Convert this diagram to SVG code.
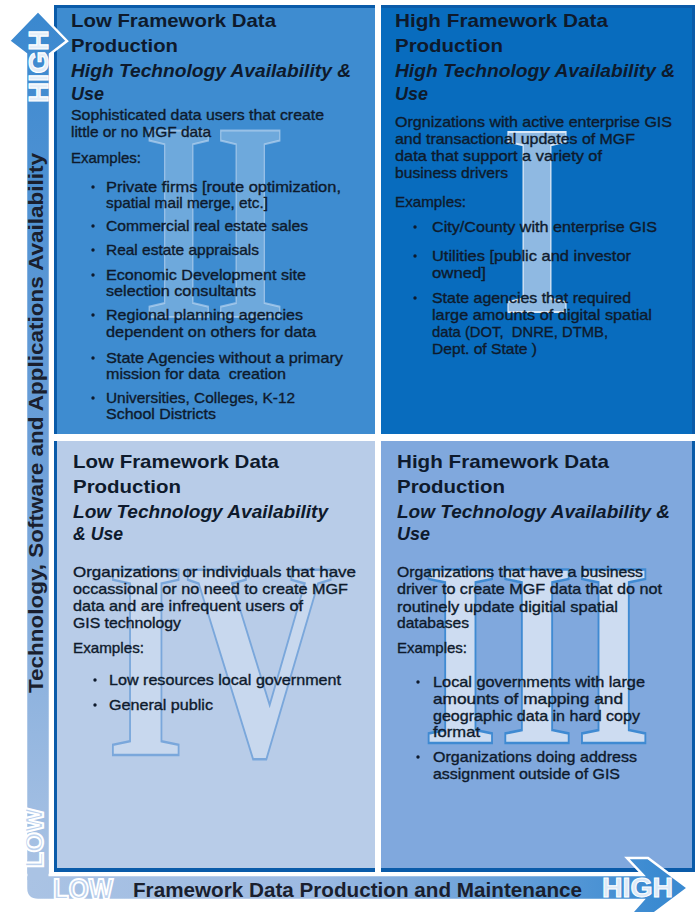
<svg xmlns="http://www.w3.org/2000/svg" width="696" height="912" viewBox="0 0 696 912">
<defs>
<linearGradient id="gv" x1="0" y1="10" x2="0" y2="880" gradientUnits="userSpaceOnUse">
<stop offset="0" stop-color="#3a88cf"/><stop offset="0.5" stop-color="#6c9fd8"/><stop offset="1" stop-color="#aac3e4"/>
</linearGradient>
<linearGradient id="gh" x1="26" y1="0" x2="660" y2="0" gradientUnits="userSpaceOnUse">
<stop offset="0" stop-color="#aac3e4"/><stop offset="0.45" stop-color="#9dbae2"/><stop offset="1" stop-color="#3a8ad1"/>
</linearGradient>
<style>
.h{font-family:"Liberation Sans",Arial,sans-serif;font-weight:bold;font-size:19px;fill:#0e1a2c}
.hi{font-family:"Liberation Sans",Arial,sans-serif;font-weight:bold;font-style:italic;font-size:19px;fill:#0e1a2c}
.b{font-family:"Liberation Sans",Arial,sans-serif;font-size:15px;fill:#0e1a2c;stroke:#0e1a2c;stroke-width:0.35;white-space:pre}
.wm{font-family:"Liberation Serif","Times New Roman",serif;font-weight:bold}
.ax{font-family:"Liberation Sans",Arial,sans-serif;font-weight:bold;font-size:20px;fill:#1a1f2e}
.big{font-family:"Liberation Sans",Arial,sans-serif;font-weight:bold}
</style>
</defs>
<rect width="696" height="912" fill="#ffffff"/>

<g id="frame">
<rect x="54" y="5" width="641" height="867" fill="#0a5ba9"/>
</g>

<g id="q2-top-left">
<rect x="57" y="8" width="318" height="426" fill="#3e8cd0"/>
<text class="wm" x="143" y="317" font-size="285" textLength="143" lengthAdjust="spacingAndGlyphs" fill="#ffffff" fill-opacity="0.25" stroke="#cfe2f6" stroke-opacity="0.55" stroke-width="2">II</text>
<text class="h" x="71" y="27" textLength="205" lengthAdjust="spacingAndGlyphs">Low Framework Data</text>
<text class="h" x="71" y="52" textLength="107" lengthAdjust="spacingAndGlyphs">Production</text>
<text class="hi" x="71" y="77" textLength="280" lengthAdjust="spacingAndGlyphs">High Technology Availability &amp;</text>
<text class="hi" x="71" y="100" textLength="33" lengthAdjust="spacingAndGlyphs">Use</text>
<text class="b" x="71" y="120" textLength="253" lengthAdjust="spacingAndGlyphs">Sophisticated data users that create</text>
<text class="b" x="71" y="137" textLength="140" lengthAdjust="spacingAndGlyphs">little or no MGF data</text>
<text class="b" x="71" y="163" textLength="70" lengthAdjust="spacingAndGlyphs">Examples:</text>
<g fill="#0e1a2c">
<circle cx="93" cy="187" r="1.7"/><circle cx="93" cy="226" r="1.7"/><circle cx="93" cy="250" r="1.7"/><circle cx="93" cy="275" r="1.7"/><circle cx="93" cy="315" r="1.7"/><circle cx="93" cy="358" r="1.7"/><circle cx="93" cy="398" r="1.7"/>
</g>
<text class="b" x="106" y="192" textLength="235" lengthAdjust="spacingAndGlyphs">Private firms [route optimization,</text>
<text class="b" x="106" y="208" textLength="162" lengthAdjust="spacingAndGlyphs">spatial mail merge, etc.]</text>
<text class="b" x="106" y="231" textLength="202" lengthAdjust="spacingAndGlyphs">Commercial real estate sales</text>
<text class="b" x="106" y="255" textLength="153" lengthAdjust="spacingAndGlyphs">Real estate appraisals</text>
<text class="b" x="106" y="280" textLength="200" lengthAdjust="spacingAndGlyphs">Economic Development site</text>
<text class="b" x="106" y="296" textLength="150" lengthAdjust="spacingAndGlyphs">selection consultants</text>
<text class="b" x="106" y="320" textLength="197" lengthAdjust="spacingAndGlyphs">Regional planning agencies</text>
<text class="b" x="106" y="337" textLength="210" lengthAdjust="spacingAndGlyphs">dependent on others for data</text>
<text class="b" x="106" y="363" textLength="237" lengthAdjust="spacingAndGlyphs">State Agencies without a primary</text>
<text class="b" x="106" y="379" textLength="180" lengthAdjust="spacingAndGlyphs" xml:space="preserve">mission for data  creation</text>
<text class="b" x="106" y="403" textLength="189" lengthAdjust="spacingAndGlyphs">Universities, Colleges, K-12</text>
<text class="b" x="106" y="419" textLength="110" lengthAdjust="spacingAndGlyphs">School Districts</text>
</g>

<g id="q1-top-right">
<rect x="381" y="8" width="311" height="426" fill="#086cbe"/>
<text class="wm" x="502" y="312" font-size="275" textLength="70" lengthAdjust="spacingAndGlyphs" fill="#c3d7f0" fill-opacity="0.72" stroke="#dbe8f7" stroke-width="2">I</text>
<text class="h" x="395" y="27" textLength="213" lengthAdjust="spacingAndGlyphs">High Framework Data</text>
<text class="h" x="395" y="52" textLength="108" lengthAdjust="spacingAndGlyphs">Production</text>
<text class="hi" x="395" y="77" textLength="280" lengthAdjust="spacingAndGlyphs">High Technology Availability &amp;</text>
<text class="hi" x="395" y="100" textLength="33" lengthAdjust="spacingAndGlyphs">Use</text>
<text class="b" x="395" y="127" textLength="277" lengthAdjust="spacingAndGlyphs">Orgnizations with active enterprise GIS</text>
<text class="b" x="395" y="144" textLength="240" lengthAdjust="spacingAndGlyphs">and transactional updates of MGF</text>
<text class="b" x="395" y="161" textLength="207" lengthAdjust="spacingAndGlyphs">data that support a variety of</text>
<text class="b" x="395" y="178" textLength="113" lengthAdjust="spacingAndGlyphs">business drivers</text>
<text class="b" x="395" y="207" textLength="71" lengthAdjust="spacingAndGlyphs">Examples:</text>
<g fill="#0e1a2c">
<circle cx="415" cy="227" r="1.7"/><circle cx="415" cy="256" r="1.7"/><circle cx="415" cy="298" r="1.7"/>
</g>
<text class="b" x="432" y="232" textLength="225" lengthAdjust="spacingAndGlyphs">City/County with enterprise GIS</text>
<text class="b" x="432" y="261" textLength="199" lengthAdjust="spacingAndGlyphs">Utilities [public and investor</text>
<text class="b" x="432" y="278" textLength="54" lengthAdjust="spacingAndGlyphs">owned]</text>
<text class="b" x="432" y="303" textLength="199" lengthAdjust="spacingAndGlyphs">State agencies that required</text>
<text class="b" x="432" y="320" textLength="220" lengthAdjust="spacingAndGlyphs">large amounts of digital spatial</text>
<text class="b" x="432" y="337" textLength="176" lengthAdjust="spacingAndGlyphs" xml:space="preserve">data (DOT,  DNRE, DTMB,</text>
<text class="b" x="432" y="354" textLength="105" lengthAdjust="spacingAndGlyphs">Dept. of State )</text>
</g>

<g id="q4-bottom-left">
<rect x="57" y="441" width="318" height="427" fill="#b8cce8"/>
<text class="wm" x="106" y="755" font-size="283" textLength="227" lengthAdjust="spacingAndGlyphs" fill="#c8d8ee" stroke="#7aa7db" stroke-width="2.5">IV</text>
<text class="h" x="73" y="468" textLength="206" lengthAdjust="spacingAndGlyphs">Low Framework Data</text>
<text class="h" x="73" y="493" textLength="108" lengthAdjust="spacingAndGlyphs">Production</text>
<text class="hi" x="73" y="518" textLength="255" lengthAdjust="spacingAndGlyphs">Low Technology Availability</text>
<text class="hi" x="73" y="540" textLength="50" lengthAdjust="spacingAndGlyphs">&amp; Use</text>
<text class="b" x="73" y="577" textLength="283" lengthAdjust="spacingAndGlyphs">Organizations or individuals that have</text>
<text class="b" x="73" y="594" textLength="275" lengthAdjust="spacingAndGlyphs">occassional or no need to create MGF</text>
<text class="b" x="73" y="611" textLength="230" lengthAdjust="spacingAndGlyphs">data and are infrequent users of</text>
<text class="b" x="73" y="628" textLength="108" lengthAdjust="spacingAndGlyphs">GIS technology</text>
<text class="b" x="73" y="653" textLength="71" lengthAdjust="spacingAndGlyphs">Examples:</text>
<g fill="#0e1a2c">
<circle cx="95" cy="680" r="1.7"/><circle cx="95" cy="705" r="1.7"/>
</g>
<text class="b" x="109" y="685" textLength="232" lengthAdjust="spacingAndGlyphs">Low resources local government</text>
<text class="b" x="109" y="710" textLength="104" lengthAdjust="spacingAndGlyphs">General public</text>
</g>

<g id="q3-bottom-right">
<rect x="381" y="441" width="311" height="427" fill="#80a8dd"/>
<text class="wm" x="422" y="743" font-size="265" textLength="230" lengthAdjust="spacingAndGlyphs" fill="#cddcf1" stroke="#3f8ad2" stroke-width="2.5">III</text>
<text class="h" x="397" y="468" textLength="212" lengthAdjust="spacingAndGlyphs">High Framework Data</text>
<text class="h" x="397" y="493" textLength="108" lengthAdjust="spacingAndGlyphs">Production</text>
<text class="hi" x="397" y="518" textLength="273" lengthAdjust="spacingAndGlyphs">Low Technology Availability &amp;</text>
<text class="hi" x="397" y="540" textLength="33" lengthAdjust="spacingAndGlyphs">Use</text>
<text class="b" x="397" y="577" textLength="246" lengthAdjust="spacingAndGlyphs">Organizations that have a business</text>
<text class="b" x="397" y="594" textLength="265" lengthAdjust="spacingAndGlyphs">driver to create MGF data that do not</text>
<text class="b" x="397" y="612" textLength="221" lengthAdjust="spacingAndGlyphs">routinely update digitial spatial</text>
<text class="b" x="397" y="628" textLength="72" lengthAdjust="spacingAndGlyphs">databases</text>
<text class="b" x="397" y="653" textLength="70" lengthAdjust="spacingAndGlyphs">Examples:</text>
<g fill="#0e1a2c">
<circle cx="418" cy="682" r="1.7"/><circle cx="418" cy="757" r="1.7"/>
</g>
<text class="b" x="433" y="687" textLength="212" lengthAdjust="spacingAndGlyphs">Local governments with large</text>
<text class="b" x="433" y="704" textLength="190" lengthAdjust="spacingAndGlyphs">amounts of mapping and</text>
<text class="b" x="433" y="721" textLength="207" lengthAdjust="spacingAndGlyphs">geographic data in hard copy</text>
<text class="b" x="433" y="737" textLength="47" lengthAdjust="spacingAndGlyphs">format</text>
<text class="b" x="433" y="762" textLength="204" lengthAdjust="spacingAndGlyphs">Organizations doing address</text>
<text class="b" x="433" y="779" textLength="187" lengthAdjust="spacingAndGlyphs">assignment outside of GIS</text>
</g>

<g id="dividers" fill="#ffffff">
<rect x="375" y="5" width="6" height="867"/>
<rect x="54" y="434" width="641" height="7"/>
</g>

<g id="axes">
<path d="M26,54 L9,41 L38,11 L67,41 L50,54 L50,876 L26,876 Z" fill="url(#gv)" stroke="#ffffff" stroke-width="2.5" stroke-linejoin="miter"/>
<path d="M26,875 H643 L627,858 H648 L688,888 L648,918 H627 L643,900 H38 Q26,900 26,888 Z" fill="url(#gh)" stroke="#ffffff" stroke-width="2.5"/>
<rect x="27.5" y="860" width="21" height="20" fill="#aac3e4"/>
<text class="ax" transform="translate(43,693) rotate(-90)" textLength="540" lengthAdjust="spacingAndGlyphs">Technology, Software and Applications Availability</text>
<text class="ax" x="133" y="897" textLength="449" lengthAdjust="spacingAndGlyphs">Framework Data Production and Maintenance</text>
<text class="big" transform="translate(48,103) rotate(-90)" font-size="27" textLength="73" lengthAdjust="spacingAndGlyphs" fill="#e4eef9" stroke="#ffffff" stroke-width="1">HIGH</text>
<text class="big" x="602" y="897" font-size="27" textLength="71" lengthAdjust="spacingAndGlyphs" fill="#dce9f7" stroke="#ffffff" stroke-width="1">HIGH</text>
<text class="big" transform="translate(43,868) rotate(-90)" font-size="26" textLength="60" lengthAdjust="spacingAndGlyphs" fill="#bcd1ed" stroke="#ffffff" stroke-width="2">LOW</text>
<text class="big" x="53" y="899" font-size="29" textLength="60" lengthAdjust="spacingAndGlyphs" fill="#bcd1ed" stroke="#ffffff" stroke-width="2">LOW</text>
</g>
</svg>
